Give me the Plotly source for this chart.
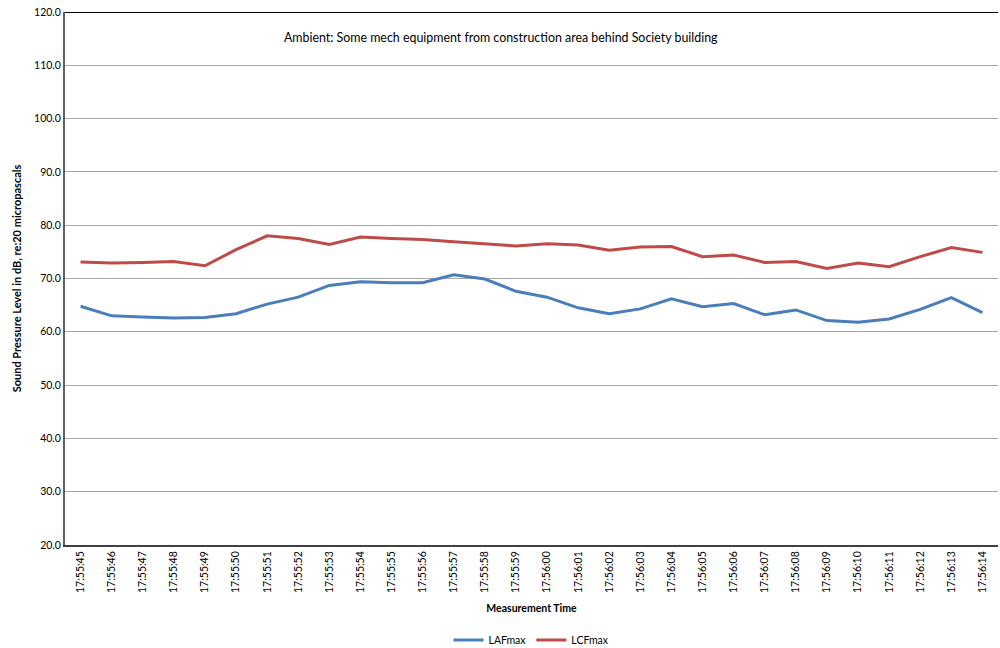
import plotly.graph_objects as go

# measurement times (one reading per second)
times = ["17:55:45", "17:55:46", "17:55:47", "17:55:48", "17:55:49", "17:55:50",
         "17:55:51", "17:55:52", "17:55:53", "17:55:54", "17:55:55", "17:55:56",
         "17:55:57", "17:55:58", "17:55:59", "17:56:00", "17:56:01", "17:56:02",
         "17:56:03", "17:56:04", "17:56:05", "17:56:06", "17:56:07", "17:56:08",
         "17:56:09", "17:56:10", "17:56:11", "17:56:12", "17:56:13", "17:56:14"]

laf_max = [64.8, 63.0, 62.8, 62.6, 62.7, 63.4, 65.2, 66.5, 68.7, 69.4, 69.2, 69.2,
           70.7, 69.9, 67.6, 66.5, 64.5, 63.4, 64.3, 66.2, 64.7, 65.3, 63.2, 64.1,
           62.1, 61.8, 62.4, 64.2, 66.4, 63.6]

lcf_max = [73.1, 72.9, 73.0, 73.2, 72.4, 75.4, 78.0, 77.5, 76.4, 77.8, 77.5, 77.3,
           76.9, 76.5, 76.1, 76.5, 76.3, 75.3, 75.9, 76.0, 74.1, 74.4, 73.0, 73.2,
           71.9, 72.9, 72.2, 74.1, 75.8, 74.9]

font_name = "Lato"

fig = go.Figure()
fig.add_trace(go.Scatter(x=times, y=laf_max, name="LAFmax", mode="lines",
                         line=dict(color="#4a7ebb", width=3)))
fig.add_trace(go.Scatter(x=times, y=lcf_max, name="LCFmax", mode="lines",
                         line=dict(color="#be4b48", width=3)))

fig.update_layout(
    width=1000, height=648,
    margin=dict(l=65, r=2, t=12, b=103, autoexpand=False),
    paper_bgcolor="white", plot_bgcolor="white",
    font=dict(family=font_name, size=10, color="black"),
    legend=dict(orientation="h", x=0.5, xanchor="center", yref="container", y=0.0123,
                yanchor="middle", font=dict(size=10.5), itemwidth=30),
    annotations=[dict(text="Ambient: Some mech equipment from construction area behind Society building",
                      x=0.467, y=0.953, xref="paper", yref="paper",
                      showarrow=False, font=dict(size=12.4), yanchor="middle")],
)

fig.update_xaxes(
    type="category", range=[-0.5, 29.5], tickangle=-90, automargin=False,
    showline=True, linecolor="#404040", linewidth=2,
    showgrid=False, ticks="", tickfont=dict(size=10.5),
    title=dict(text="<b>Measurement Time</b>", font=dict(size=10.5), standoff=13),
)
fig.update_yaxes(
    range=[20, 120], dtick=10, tickformat=".1f", automargin=False,
    ticklabeloverflow="allow",
    showline=True, linecolor="#606060", linewidth=2,
    showgrid=True, gridcolor="#a6a6a6", gridwidth=1,
    ticks="", zeroline=False, tickfont=dict(size=10.5),
    title=dict(text="<b>Sound Pressure Level in dB, re:20 micropascals</b>", font=dict(size=11), standoff=10),
)
# dark border along the top of the plot area
fig.add_shape(type="line", xref="paper", yref="y", x0=0, x1=1, y0=120, y1=120,
              line=dict(color="black", width=2))

# drop the default page margin so the figure fills the window
fig.write_html("out.html", config={"displayModeBar": False},
               post_script="document.body.style.margin='0';document.body.style.overflow='hidden';")
